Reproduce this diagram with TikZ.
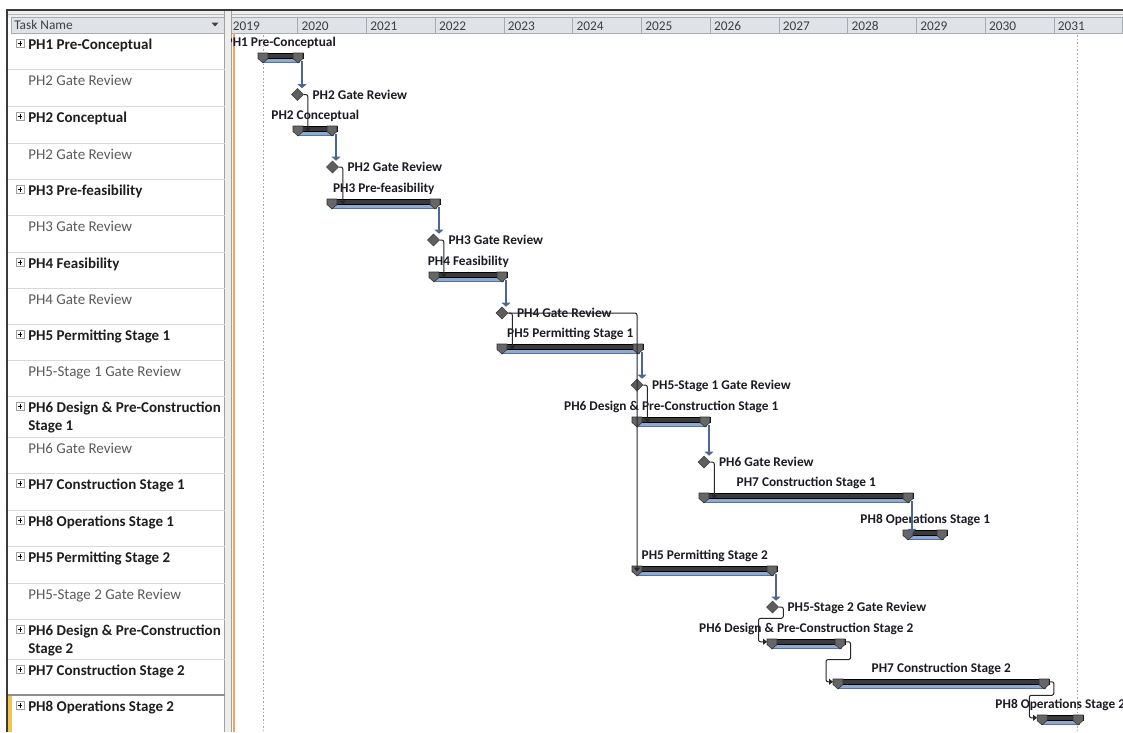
\documentclass[tikz,border=0pt]{standalone}
\usepackage{fontspec}
\setmainfont{Carlito}
\usetikzlibrary{arrows.meta,shapes.geometric,calc}

\definecolor{frame}{HTML}{3A3A3A}
\definecolor{stripfill}{HTML}{EEEEEE}
\definecolor{stripline}{HTML}{B5B5B5}
\definecolor{hdrfill}{HTML}{DFE3E8}
\definecolor{hdrline}{HTML}{A7ACB2}
\definecolor{hdrtxt}{HTML}{3F3F3F}
\definecolor{sepfill}{HTML}{EDEDED}
\definecolor{sepline}{HTML}{A0A0A0}
\definecolor{rowline}{HTML}{D9D9D9}
\definecolor{rowsel}{HTML}{8E8E8E}
\definecolor{selmark}{HTML}{F2C44D}
\definecolor{phasetxt}{HTML}{1E1E1E}
\definecolor{gatetxt}{HTML}{5B5B5B}
\definecolor{todayline}{HTML}{F5A35A}
\definecolor{dotline}{HTML}{A8A8A8}
\definecolor{barblue}{HTML}{8FAAD0}
\definecolor{barblueedge}{HTML}{54739E}
\definecolor{bardark}{HTML}{3B3B3B}
\definecolor{capfill}{HTML}{666666}
\definecolor{capedge}{HTML}{2F2F2F}
\definecolor{msfill}{HTML}{5E5E5E}
\definecolor{msedge}{HTML}{3A3A3A}
\definecolor{linkblue}{HTML}{4D6890}
\definecolor{labeltxt}{HTML}{1B1B26}

\tikzset{
  phasetext/.style={anchor=base west, inner sep=0pt, font=\fontsize{11.25}{13.5}\selectfont\bfseries, text=phasetxt},
  gatetext/.style={anchor=base west, inner sep=0pt, font=\fontsize{11.25}{13.5}\selectfont, text=gatetxt},
  hdrtext/.style={anchor=base west, inner sep=0pt, font=\fontsize{10}{12}\selectfont, text=hdrtxt},
  barlabel/.style={anchor=base, inner sep=0pt, font=\fontsize{10}{12}\selectfont\bfseries, text=labeltxt},
  mslabel/.style={anchor=base west, inner sep=0pt, font=\fontsize{10}{12}\selectfont\bfseries, text=labeltxt},
  sumbody/.style={rectangle, anchor=north west, inner sep=0pt, minimum height=3.75pt, fill=bardark, draw=black, line width=0.4pt},
  capshape/.style={fill=capfill, draw=capedge, line width=0.4pt},
  msdiamond/.style={diamond, inner sep=0pt, minimum size=9pt, fill=msfill, draw=msedge, line width=0.4pt},
  expander/.style={rectangle, inner sep=0pt, minimum size=6pt, fill=white, draw=sepline, line width=0.4pt},
  bluelink/.style={draw=linkblue, line width=0.9pt, -{Triangle[width=6.5pt,length=3pt]}},
  blacklink/.style={draw=black!85, line width=0.75pt, rounded corners=1.5pt, -{Triangle[width=4.5pt,length=3pt]}},
}

% summary bar: name, start x, end x, top y, label
\newcommand\sumbar[5]{%
  \fill[barblue, draw=barblueedge, line width=0.5pt] (#2+4,#4+4.5) rectangle (#3-4,#4+9);
  \node[sumbody, minimum width={(#3-#2)*0.75pt}] (#1) at (#2,#4) {};
  \path[capshape] (#2,#4) -- ++(10,0) -- ++(0,5.5) -- ++(-5,4.5) -- ++(-5,-4.5) -- cycle;
  \path[capshape] (#3,#4) -- ++(-10,0) -- ++(0,5.5) -- ++(5,4.5) -- ++(5,-4.5) -- cycle;
  \node[barlabel] (#1-t) at ($(#1.north)+(0,-7)$) {#5};
}
% milestone: name, x, y, label
\newcommand\msnode[4]{%
  \node[msdiamond] (#1) at (#2,#3) {};
  \node[mslabel] (#1-t) at ($(#1.east)+(8.5,4.5)$) {#4};
}
% expander box of an outline row: name, row top
\newcommand\expbox[2]{%
  \node[expander] (#1) at (20,#2+10.3) {};
  \draw[black, line width=0.5pt] ($(#1)+(-2.3,0)$) -- ($(#1)+(2.3,0)$) ($(#1)+(0,-2.3)$) -- ($(#1)+(0,2.3)$);
}
% summary bar to milestone, straight down
\newcommand\barlink[2]{%
  \path ($(#1.north east)+(-1.5,8)$) coordinate (#1-out);
  \draw[bluelink] (#1-out) -- (#1-out |- #2);
}
% milestone to the bar it starts
\newcommand\mslink[2]{%
  \path ($(#1.east)+(4,0)$) coordinate (#1-out);
  \draw[blacklink] (#1.east) -| (#1-out |- #2.south);
}

\begin{document}
\begin{tikzpicture}[x=0.75pt,y=-0.75pt]
\useasboundingbox (0,0) rectangle (1123,732);
\fill[white] (0,0) rectangle (1123,732);

% window frame and top strip
\fill[stripfill] (7,11) rectangle (1123,17.5);
\draw[stripline, line width=0.6pt] (7,14.8) -- (1123,14.8);

% task name header
\fill[hdrfill] (11,17.5) rectangle (224.5,33);
\draw[hdrline, line width=0.75pt] (11,17.5) rectangle (224.5,33);
\node[hdrtext] (hdr) at (14,29.5) {Task Name};
\fill[hdrtxt] (211.5,22.5) -- (218.5,22.5) -- (215,26.5) -- cycle;

% timescale header
\foreach \yr [count=\i from 0] in {2019,...,2031} {
  \draw[hdrline, fill=hdrfill, line width=0.75pt] (229+68.75*\i,17.5) rectangle (229+68.75*\i+68.75,33);
  \node[hdrtext] (yr\yr) at (229+68.75*\i+3.5,30) {\yr};
}

% splitter between table and chart
\fill[sepfill] (224.5,11) rectangle (231,732);
\draw[sepline, line width=0.75pt] (224.5,11) -- (224.5,732) (231,11) -- (231,732);

\draw[frame, line width=1.5pt] (6,10) -- (1123,10);
\draw[frame, line width=1.2pt] (7,10) -- (7,732);

% table rows
\foreach \t in {69.5,106,143,179,215,252,288,324,360,396,437,473,510,546,583,619,659}
  \draw[rowline, line width=0.75pt] (7.6,\t) -- (224.5,\t);
\draw[rowsel, line width=1pt] (7.6,695) -- (224.5,695);
\fill[selmark] (8,695.6) rectangle (11.5,732);

\expbox{e1}{33}
\node[phasetext] (t1) at (28,49) {PH1 Pre-Conceptual};
\node[gatetext] (t2) at (28,85.5) {PH2 Gate Review};
\expbox{e3}{106}
\node[phasetext] (t3) at (28,122) {PH2 Conceptual};
\node[gatetext] (t4) at (28,159) {PH2 Gate Review};
\expbox{e5}{179}
\node[phasetext] (t5) at (28,195) {PH3 Pre-feasibility};
\node[gatetext] (t6) at (28,231) {PH3 Gate Review};
\expbox{e7}{252}
\node[phasetext] (t7) at (28,268) {PH4 Feasibility};
\node[gatetext] (t8) at (28,304) {PH4 Gate Review};
\expbox{e9}{324}
\node[phasetext] (t9) at (28,340) {PH5 Permitting Stage 1};
\node[gatetext] (t10) at (28,376) {PH5-Stage 1 Gate Review};
\expbox{e11}{396}
\node[phasetext] (t11) at (28,412) {PH6 Design \& Pre-Construction};
\node[phasetext] (t11b) at (28,430) {Stage 1};
\node[gatetext] (t12) at (28,453) {PH6 Gate Review};
\expbox{e13}{473}
\node[phasetext] (t13) at (28,489) {PH7 Construction Stage 1};
\expbox{e14}{510}
\node[phasetext] (t14) at (28,526) {PH8 Operations Stage 1};
\expbox{e15}{546}
\node[phasetext] (t15) at (28,562) {PH5 Permitting Stage 2};
\node[gatetext] (t16) at (28,599) {PH5-Stage 2 Gate Review};
\expbox{e17}{619}
\node[phasetext] (t17) at (28,635) {PH6 Design \& Pre-Construction};
\node[phasetext] (t17b) at (28,653) {Stage 2};
\expbox{e18}{659}
\node[phasetext] (t18) at (28,675) {PH7 Construction Stage 2};
\expbox{e19}{695}
\node[phasetext] (t19) at (28,711) {PH8 Operations Stage 2};

% chart area
\begin{scope}
\clip (231.4,33.4) rectangle (1123,732);
\draw[dotline, line width=0.75pt, dash pattern=on 1.2pt off 1.5pt] (263,35) -- (263,732);
\draw[dotline, line width=0.75pt, dash pattern=on 1.2pt off 1.5pt] (1077,35) -- (1077,732);
\draw[todayline, line width=0.9pt] (234,33) -- (234,732);

\sumbar{b1}{258}{303}{53}{PH1 Pre-Conceptual}
\sumbar{b2}{293}{337}{126}{PH2 Conceptual}
\sumbar{b3}{327}{440}{199}{PH3 Pre-feasibility}
\sumbar{b4}{429}{507}{272}{PH4 Feasibility}
\sumbar{b5}{497}{643}{344}{PH5 Permitting Stage 1}
\sumbar{b6}{632}{710}{417}{PH6 Design \& Pre-Construction Stage 1}
\sumbar{b7}{699}{913}{493}{PH7 Construction Stage 1}
\sumbar{b8}{903}{947}{530}{PH8 Operations Stage 1}
\sumbar{b9}{632}{777}{566}{PH5 Permitting Stage 2}
\sumbar{b10}{767}{845}{639}{PH6 Design \& Pre-Construction Stage 2}
\sumbar{b11}{833}{1049}{679}{PH7 Construction Stage 2}
\sumbar{b12}{1037}{1083}{715}{PH8 Operations Stage 2}

\msnode{m1}{297.5}{94.5}{PH2 Gate Review}
\msnode{m2}{332.5}{167}{PH2 Gate Review}
\msnode{m3}{433.5}{240}{PH3 Gate Review}
\msnode{m4}{502}{313}{PH4 Gate Review}
\msnode{m5}{637}{385}{PH5-Stage 1 Gate Review}
\msnode{m6}{704}{462}{PH6 Gate Review}
\msnode{m7}{772.5}{607}{PH5-Stage 2 Gate Review}

% finish-to-start links
\barlink{b1}{m1.north}
\barlink{b2}{m2.north}
\barlink{b3}{m3.north}
\barlink{b4}{m4.north}
\barlink{b5}{m5.north}
\barlink{b6}{m6.north}
\barlink{b9}{m7.north}
\barlink{b7}{b8.center}

\mslink{m1}{b2}
\mslink{m2}{b3}
\mslink{m3}{b4}
\mslink{m4}{b5}
\mslink{m5}{b6}
\mslink{m6}{b7}

\path ($(b9.north west)+(5,0)$) coordinate (b9-in);
\draw[blacklink] (m4.east) -| (b9-in |- b9.south);

\draw[blacklink] (m7.east) -- ++(4.5,0) -- ++(0,11.3) -| ($(b10.west)+(-8.5,0)$) -- (b10.west);
\draw[blacklink] (b10.east) -- ++(5,0) -- ++(0,17.8) -| ($(b11.west)+(-7,0)$) -- (b11.west);
\draw[blacklink] (b11.east) -- ++(4.3,0) -- ++(0,13.5) -| ($(b12.west)+(-7.7,0)$) -- (b12.west);
\end{scope}
\end{tikzpicture}
\end{document}
